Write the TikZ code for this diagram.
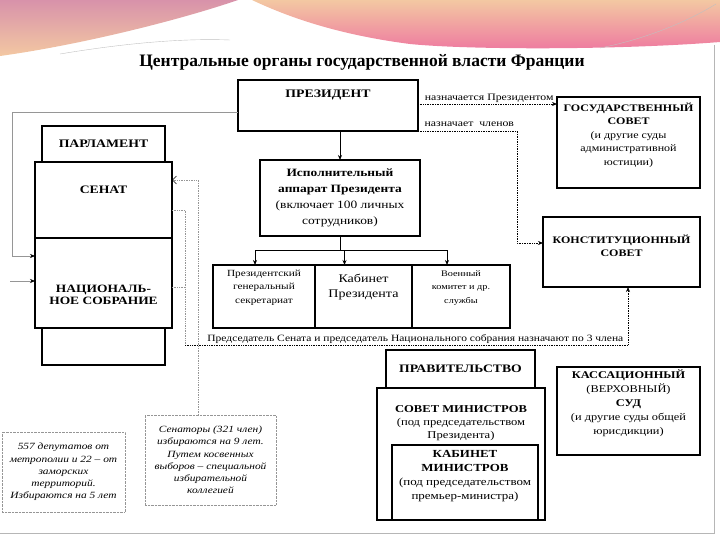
\documentclass[tikz,border=0pt]{standalone}
\usepackage{fontspec}
\setmainfont{Liberation Serif}[FakeStretch=1.2]
\newfontfamily\titlefont{Liberation Serif}
\usetikzlibrary{arrows.meta, positioning}
\definecolor{wavemauve}{RGB}{216,146,170}
\definecolor{wavepeach}{RGB}{243,200,162}
\definecolor{waverose}{RGB}{238,122,160}
\definecolor{notegray}{RGB}{150,150,150}

\begin{document}
\begin{tikzpicture}[x=1pt, y=-1pt,
    box/.style={rectangle, draw=black, line width=1.6pt, outer sep=0pt, align=center, inner sep=2pt, font=\fontsize{10}{13.5}\selectfont},
    smallbox/.style={box, line width=1.2pt, font=\fontsize{9.4}{13.5}\selectfont},
    note/.style={rectangle, draw=notegray, densely dotted, align=center, inner sep=2pt, font=\itshape\fontsize{9.5}{12.2}\selectfont},
    line/.style={draw, ->, >={Stealth[length=5pt,width=4pt]}, line width=0.8pt},
    dotline/.style={draw, densely dotted, line width=0.7pt, ->, >={Stealth[length=5pt,width=4pt]}},
    grayline/.style={draw=notegray, line width=0.6pt, ->, >={Stealth[length=5pt,width=4pt,color=black]}},
    graydots/.style={draw=notegray, densely dotted, line width=0.7pt}
  ]
  \useasboundingbox (0,0) rectangle (720,540);
  % header wave
  \shade[top color=wavemauve, bottom color=wavepeach] (0,0) -- (238,0) .. controls (180,20) and (80,45) .. (0,56) -- cycle;
  \shade[top color=wavepeach, bottom color=waverose] (252,0) -- (720,0) -- (720,42) .. controls (620,50) and (470,50) .. (410,44) .. controls (340,35) and (290,18) .. (252,0) -- cycle;
  \draw[notegray!60, line width=0.4pt] (60,54) .. controls (120,44) and (180,38) .. (230,40);
  \draw[notegray!60, line width=0.4pt] (600,48) .. controls (650,38) and (690,20) .. (716,4);
  \draw[notegray!70, line width=0.5pt] (714,45) -- (714,533) -- (0,533);

  \node (title) at (362,62) {\titlefont\bfseries\fontsize{17.5}{20}\selectfont Центральные органы государственной власти Франции};

  % president and councils
  \node (pres) [box, minimum width=180pt, minimum height=51pt, label={[anchor=north, yshift=-6pt, font=\bfseries\fontsize{11.5}{13}\selectfont]north:ПРЕЗИДЕНТ}] at (328,105.5) {};
  \node (gossovet) [box, minimum width=143pt, minimum height=91pt] at (628.5,142.5) {\textbf{ГОСУДАРСТВЕННЫЙ}\\\textbf{СОВЕТ}\\(и другие суды\\административной\\юстиции)\\[4pt]};
  \node (konst) [box, minimum width=157pt, minimum height=70pt, font=\bfseries\fontsize{10}{13}\selectfont] at (621.5,252) {КОНСТИТУЦИОННЫЙ\\СОВЕТ\\};

  % parliament
  \node (parl) [box, minimum width=123pt, minimum height=36pt, font=\bfseries\fontsize{11.5}{13}\selectfont] at (103.5,144) {ПАРЛАМЕНТ};
  \node (senate) [box, minimum width=137pt, minimum height=76pt, anchor=north, label={[yshift=10pt, font=\bfseries\fontsize{11.4}{13}\selectfont]center:СЕНАТ}] at (parl.south) {};
  \node (ns) [box, minimum width=137pt, minimum height=90pt, anchor=north, label={[yshift=-12pt, align=center, font=\bfseries\fontsize{11.2}{11.5}\selectfont]center:НАЦИОНАЛЬ-\\НОЕ СОБРАНИЕ}] at (senate.south) {};
  \node (parlbottom) [box, minimum width=123pt, minimum height=37pt, anchor=north] at (ns.south) {};

  % executive apparatus
  \node (exec) [box, minimum width=160pt, minimum height=76pt, font=\fontsize{11.2}{16}\selectfont] at (340,198) {\textbf{Исполнительный}\\\textbf{аппарат Президента}\\(включает 100 личных\\сотрудников)};
  \node (sec) [smallbox, minimum width=102pt, minimum height=63pt] at (264,296.5) {Президентский\\генеральный\\секретариат\\[6pt]};
  \node (cab) [smallbox, minimum width=97pt, minimum height=63pt, font=\fontsize{11.7}{15.5}\selectfont, anchor=west] at (sec.east) {Кабинет\\Президента\\[6pt]};
  \node (mil) [smallbox, minimum width=98pt, minimum height=63pt, font=\fontsize{8.5}{13.5}\selectfont, anchor=west] at (cab.east) {Военный\\комитет и др.\\службы\\[6pt]};

  % government
  \node (gov) [box, minimum width=149pt, minimum height=38pt, font=\bfseries\fontsize{11.4}{13}\selectfont] at (460.5,369) {ПРАВИТЕЛЬСТВО};
  \node (sovmin) [box, minimum width=168pt, minimum height=132pt, anchor=north, label={[anchor=north, yshift=-14pt, align=center, font=\fontsize{10.5}{13}\selectfont]north:\textbf{СОВЕТ МИНИСТРОВ}\\(под председательством\\Президента)}] at ([xshift=0.5pt]gov.south) {};
  \node (kabmin) [box, minimum width=146pt, minimum height=75pt, anchor=south, font=\fontsize{10.8}{14}\selectfont] at ([xshift=4pt]sovmin.south) {\textbf{КАБИНЕТ}\\\textbf{МИНИСТРОВ}\\(под председательством\\премьер-министра)\\[2pt]};
  \node (kass) [box, minimum width=143pt, minimum height=88pt, font=\fontsize{10.3}{14}\selectfont] at (628.5,411) {\textbf{КАССАЦИОННЫЙ}\\(ВЕРХОВНЫЙ)\\\textbf{СУД}\\(и другие суды общей\\юрисдикции)\\[4pt]};

  % notes
  \node (depnote) [note, minimum width=123pt, minimum height=80pt] at (63.5,472) {557 депутатов от\\метрополии и 22 – от\\заморских\\территорий.\\Избираются на 5 лет};
  \node (senatnote) [note, minimum width=131pt, minimum height=90pt] at (210.5,460) {Сенаторы (321 член)\\избираются на 9 лет.\\Путем косвенных\\выборов – специальной\\избирательной\\коллегией};

  % connectors
  \draw[dotline] ([yshift=-24pt]pres.north east) -- ([yshift=-24pt]pres.north east -| gossovet.west) node[pos=0, anchor=south west, inner sep=1.5pt, xshift=5pt, font=\fontsize{9.8}{11}\selectfont]{назначается Президентом};
  \draw[dotline] (pres.south east) -| ([xshift=-26pt, yshift=9pt]konst.west) -- ([yshift=9pt]konst.west);
  \node[anchor=south west, inner sep=1.5pt, font=\fontsize{9.8}{11}\selectfont] (naznlabel) at ([xshift=5pt, yshift=3pt]pres.south east) {назначает\ \ членов};
  \draw[line] (pres.south -| exec.north) -- (exec.north);
  \coordinate (fork) at ([yshift=-14pt]exec.south);
  \draw[line width=0.8pt] (exec.south) -- (fork);
  \draw[line width=0.8pt] ([xshift=-9pt]sec.north |- fork) -- ([xshift=-14pt]mil.north |- fork);
  \foreach \n/\s in {sec/-9pt, cab/-19pt, mil/-14pt}
    \draw[line] ([xshift=\s]\n.north |- fork) -- ([xshift=\s]\n.north);

  \draw[grayline] ([yshift=-7pt]pres.west) -| ([xshift=-23pt, yshift=27pt]ns.west) -- ([yshift=27pt]ns.west);
  \draw[grayline] ([xshift=-25pt, yshift=2pt]ns.west) -- ([yshift=2pt]ns.west);
  \draw[graydots, -{Straight Barb[length=4pt, color=black]}] ([xshift=-12.5pt]senatnote.north) |- ([yshift=20pt]senate.east);

  \coordinate (pjoin) at (185,345);
  \draw[graydots] ([yshift=-10pt]senate.east) -| (pjoin);
  \draw[graydots] ([yshift=-4pt]ns.east) -- ([yshift=-4pt]ns.east -| pjoin);
  \draw[dotline] (pjoin) -| ([xshift=6.5pt]konst.south) node[pos=0.26, above, inner sep=1.5pt, font=\fontsize{9.6}{11}\selectfont]{Председатель Сената и председатель Национального собрания назначают по 3 члена};
\end{tikzpicture}
\end{document}
